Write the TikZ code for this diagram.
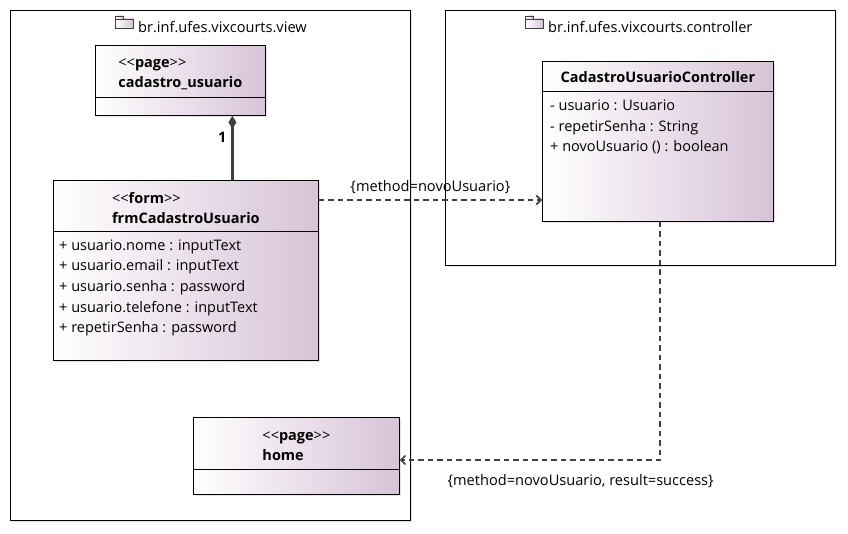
\documentclass[tikz,border=0pt]{standalone}
\usepackage{fontspec}
\setmainfont{Open Sans}
\usepackage{xcolor}
\usepackage{tikz}
\usetikzlibrary{arrows.meta,shadows,positioning}
\definecolor{umlpurple}{RGB}{215,195,215}
\definecolor{lineGray}{RGB}{64,64,64}
\newcommand{\stereo}[1]{{\mdseries<\kern0pt<}#1{\mdseries>\kern0pt>}}

\begin{document}
\begin{tikzpicture}[x=1pt,y=-1pt]
			\tikzstyle{pkgbox}=[draw, line width=0.8pt, fill=white, anchor=north west, inner sep=0pt, drop shadow={shadow xshift=2pt,shadow yshift=-2pt,fill=black!20}]
			\tikzstyle{umlclass}=[draw, line width=0.8pt, left color=white, right color=umlpurple, anchor=north west, inner sep=0pt, drop shadow={shadow xshift=2pt,shadow yshift=-2pt,fill=black!20}]
			\tikzstyle{classtitle}=[align=left, inner sep=0pt, font=\fontsize{14.5}{20}\selectfont\bfseries]
			\tikzstyle{attrs}=[align=left, anchor=west, inner sep=0pt, font=\fontsize{14.5}{20.7}\selectfont]
			\tikzstyle{cons}=[inner sep=0pt, font=\fontsize{14.6}{16}\selectfont]
			\tikzstyle{folder}=[draw=lineGray, line width=0.6pt, left color=white, right color=umlpurple]
			\tikzset{dep/.style = {-{Straight Barb[length=4.5pt,width=9pt,line width=1.6pt]}, draw=lineGray, line width=2pt, dash pattern=on 5.5pt off 4pt}}
			\tikzset{compo/.style = {{Diamond[length=13pt,width=8pt]}-, draw=lineGray, fill=lineGray, line width=2.2pt}}
			
			\useasboundingbox (0,0) rectangle (848,534);
			
			% packages
			\node[pkgbox, minimum width=400pt, minimum height=510pt](view) at (10,10) {};
			\node[pkgbox, minimum width=390pt, minimum height=255pt](ctrl) at (445,10) {};
			\node[cons, anchor=west](viewname) at (138,27) {br.inf.ufes.vixcourts.view};
			\node[cons, anchor=west](ctrlname) at (548,27) {br.inf.ufes.vixcourts.controller};
			\draw[folder] ([xshift=-23pt,yshift=-1pt]viewname.west) rectangle ++(18,-9);
			\draw[folder] ([xshift=-23pt,yshift=8pt]viewname.west) rectangle ++(8,-3);
			\draw[folder] ([xshift=-23pt,yshift=-1pt]ctrlname.west) rectangle ++(18,-9);
			\draw[folder] ([xshift=-23pt,yshift=8pt]ctrlname.west) rectangle ++(8,-3);
			
			% classes
			\node[umlclass, minimum width=170pt, minimum height=70pt](cadastro) at (95,45) {};
			\node[classtitle](cadastrotitle) at ([yshift=-29pt]cadastro.north) {\stereo{page}\\cadastro\_usuario};
			\draw[line width=0.8pt] ([yshift=-52pt]cadastro.north west) -- ([yshift=-52pt]cadastro.north east);
			
			\node[umlclass, minimum width=265pt, minimum height=180pt](form) at (53,180) {};
			\node[classtitle](formtitle) at ([yshift=-28pt]form.north) {\stereo{form}\\frmCadastroUsuario};
			\draw[line width=0.8pt] ([yshift=-51pt]form.north west) -- ([yshift=-51pt]form.north east);
			\node[attrs](formattrs) at ([xshift=6pt,yshift=-108pt]form.north west) {+ usuario.nome : inputText\\+ usuario.email : inputText\\+ usuario.senha : password\\+ usuario.telefone : inputText\\+ repetirSenha : password};
			
			\node[umlclass, minimum width=231pt, minimum height=160pt](controller) at (542,61) {};
			\node[classtitle](controllertitle) at ([yshift=-16.5pt]controller.north) {CadastroUsuarioController};
			\draw[line width=0.8pt] ([yshift=-30pt]controller.north west) -- ([yshift=-30pt]controller.north east);
			\node[attrs](controllerattrs) at ([xshift=8pt,yshift=-66pt]controller.north west) {- usuario : Usuario\\- repetirSenha : String\\+ novoUsuario () : boolean};
			
			\node[umlclass, minimum width=206pt, minimum height=77pt](home) at (193,417) {};
			\node[classtitle](hometitle) at ([yshift=-29pt]home.north) {\stereo{page}\\home};
			\draw[line width=0.8pt] ([yshift=-52pt]home.north west) -- ([yshift=-52pt]home.north east);
			
			% connectors
			\draw[compo] ([xshift=52pt]cadastro.south) -- node[pos=0.34, left=5pt, inner sep=0pt, font=\fontsize{14.5}{16}\selectfont\bfseries] {1} ([xshift=52pt]cadastro.south |- form.north);
			\draw[dep] ([yshift=-20pt]form.north east) -- node[cons, above=5pt] {\{method=novoUsuario\}} ([yshift=-20pt]form.north east -| controller.west);
			\draw[dep] ([xshift=2.5pt]controller.south) |- node[cons, pos=0.653, below=13pt] {\{method=novoUsuario, result=success\}} ([yshift=-43pt]home.north east);
\end{tikzpicture}
\end{document}
